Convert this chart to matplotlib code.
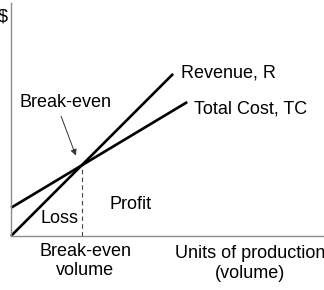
import matplotlib
matplotlib.use("Agg")
import matplotlib.pyplot as plt

# Data (arbitrary units)
volume_rev = [0, 23]
revenue = [0, 23]
volume_tc = [0, 25]
total_cost = [4, 19]
break_even = 10.0

plt.rcParams['font.family'] = ['Liberation Sans', 'DejaVu Sans']

W, H = 324, 290
fig = plt.figure(figsize=(W / 100, H / 100), dpi=100)
unit = 7.05  # px per data unit
x0, y0 = 11, 236
ax = fig.add_axes([x0 / W, (H - y0) / H, (W - x0) / W, (y0 - 3) / H])
ax.set_xlim(0, (W - x0) / unit)
ax.set_ylim(0, (y0 - 3) / unit)
ax.set_xticks([])
ax.set_yticks([])
for s in ['top', 'right']:
    ax.spines[s].set_visible(False)
for s in ['left', 'bottom']:
    ax.spines[s].set_color('#8c8c8c')
    ax.spines[s].set_linewidth(1.0)

ax.plot(volume_rev, revenue, color='black', lw=1.9, solid_capstyle='butt', clip_on=False)
ax.plot(volume_tc, total_cost, color='black', lw=1.9, solid_capstyle='butt', clip_on=False)
ax.plot([break_even, break_even], [0, break_even], color='#444444', lw=0.8,
        linestyle=(0, (4, 3)))

fs = 13
ax.text(24.1, 23.1, 'Revenue, R', fontsize=fs, ha='left', va='center')
ax.text(26.0, 18.0, 'Total Cost, TC', fontsize=fs, ha='left', va='center')
ax.text(7.8, 19.0, 'Break-even', fontsize=fs, ha='center', va='center')
ax.annotate('', xy=(9.2, 11.4), xytext=(7.1, 17.0),
            arrowprops=dict(arrowstyle='-|>', color='#333333', lw=0.7,
                            mutation_scale=9, shrinkA=0, shrinkB=0))
ax.text(6.95, 2.55, 'Loss', fontsize=fs, ha='center', va='center')
ax.text(16.9, 4.5, 'Profit', fontsize=fs, ha='center', va='center')
ax.text(10.5, -3.55, 'Break-even\nvolume', fontsize=fs, ha='center', va='center',
        multialignment='center', clip_on=False)
ax.text(33.9, -3.9, 'Units of production\n(volume)', fontsize=fs, ha='center',
        va='center', multialignment='center', clip_on=False)
ax.text(-1.1, 31.1, '$', fontsize=fs, ha='center', va='center', clip_on=False)

fig.savefig('out.png', dpi=100)
